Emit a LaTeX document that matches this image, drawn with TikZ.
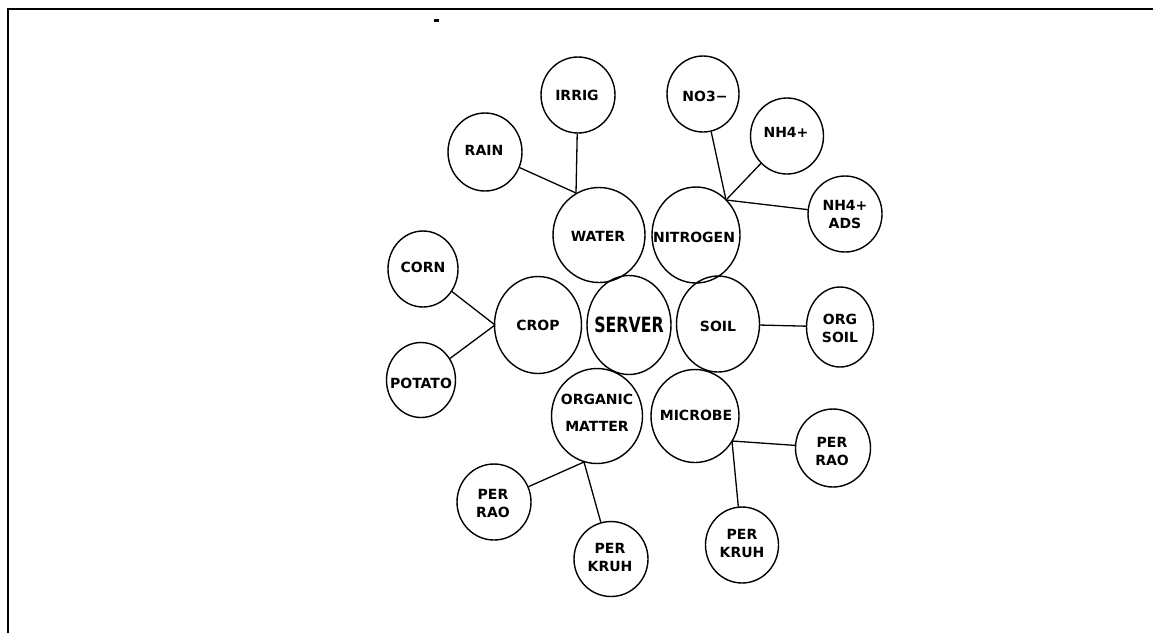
\documentclass[tikz,border=0pt]{standalone}
\usepackage{fontspec}
\usepackage{graphicx}
\setmainfont{DejaVu Sans}
\usetikzlibrary{shapes.geometric}

\begin{document}
\begin{tikzpicture}[x=1pt, y=-1pt,
  bubble/.style={ellipse, draw, line width=1.4pt, inner sep=0pt},
  small/.style={bubble, minimum width=74pt, minimum height=77pt},
  big/.style={bubble, minimum width=88pt, minimum height=96pt},
  txt/.style={inner sep=0pt, align=center, font=\fontsize{14}{18}\selectfont\bfseries},
  link/.style={line width=1.3pt},
]
\useasboundingbox (0,0) rectangle (1153,633);

% page frame (top and left rules) and the stray mark
\draw[line width=2.5pt, line join=miter] (8,633) -- (8,9) -- (1153,9);
\fill (433.5,18.5) rectangle (438.5,21.5);

% central cluster
\node[big, minimum width=87pt, minimum height=97pt] (crop) at (538,325) {};
\node[big, minimum width=84pt, minimum height=99pt] (server) at (629,325) {};
\node[big, minimum width=83pt, minimum height=96pt] (soil) at (718,324) {};
\node[big, minimum width=92pt, minimum height=95pt] (water) at (599,235) {};
\node[big, minimum width=88pt, minimum height=96pt] (nitrogen) at (696,235) {};
\node[big, minimum width=91pt, minimum height=95pt] (om) at (597,416) {};
\node[big, minimum width=88pt, minimum height=93pt] (microbe) at (695,416) {};

% outer circles
\node[small, minimum height=76pt] (irrig) at (578,95) {};
\node[small, minimum height=78pt] (rain) at (485,152) {};
\node[small, minimum width=72pt, minimum height=76pt] (no3) at (703,94) {};
\node[small, minimum width=73pt, minimum height=76pt] (nh4) at (787,136) {};
\node[small, minimum height=76pt] (nh4ads) at (845,214) {};
\node[small, minimum width=70pt, minimum height=76pt] (corn) at (423,269) {};
\node[small, minimum width=69pt, minimum height=75pt] (potato) at (421,380) {};
\node[small, minimum width=67pt, minimum height=80pt] (orgsoil) at (840,327) {};
\node[small, minimum height=76pt] (raoL) at (494,502) {};
\node[small, minimum height=75pt] (kruhL) at (611,559) {};
\node[small, minimum width=75pt, minimum height=78pt] (raoR) at (833,448) {};
\node[small, minimum width=73pt, minimum height=76pt] (kruhR) at (742,545) {};

% labels
\node[txt] (t-crop) at (538,325) {CROP};
\node[txt] (t-server) at (629,325) {\scalebox{0.75}[1]{\fontsize{21}{25}\selectfont\bfseries SERVER}};
\node[txt] (t-soil) at (718,326) {SOIL};
\node[txt] (t-water) at (598,236) {WATER};
\node[txt] (t-nitrogen) at (694,237) {NITROGEN};
\node[txt, font=\fontsize{14}{27}\selectfont\bfseries] (t-om) at (597,413) {ORGANIC\\MATTER};
\node[txt] (t-microbe) at (696,415) {MICROBE};
\node[txt] (t-irrig) at (577,95) {IRRIG};
\node[txt] (t-rain) at (484,150) {RAIN};
\node[txt] (t-no3) at (705,96) {NO3−};
\node[txt] (t-nh4) at (786,132) {NH4+};
\node[txt] (t-nh4ads) at (845,214) {NH4+\\ADS};
\node[txt] (t-corn) at (423,267) {CORN};
\node[txt] (t-potato) at (421,383) {POTATO};
\node[txt] (t-orgsoil) at (840,328) {ORG\\SOIL};
\node[txt] (t-raoL) at (493,503) {PER\\RAO};
\node[txt] (t-kruhL) at (610,557) {PER\\KRUH};
\node[txt] (t-raoR) at (832,451) {PER\\RAO};
\node[txt] (t-kruhR) at (742,543) {PER\\KRUH};

% junction points on the rims of the central circles
\coordinate (wj) at (576,193);
\coordinate (nj) at (726,200);
\coordinate (cj) at (495,325);
\coordinate (omj) at (584,462);
\coordinate (mj) at (732,441);

% connectors
\draw[link] (irrig) -- (wj);
\draw[link] (rain) -- (wj);
\draw[link] (no3) -- (nj);
\draw[link] (nh4) -- (nj);
\draw[link] (nh4ads) -- (nj);
\draw[link] (corn) -- (cj);
\draw[link] (potato) -- (cj);
\draw[link] (soil) -- (orgsoil);
\draw[link] (raoL) -- (omj);
\draw[link] (kruhL) -- (omj);
\draw[link] (raoR) -- (mj);
\draw[link] (kruhR) -- (mj);
\end{tikzpicture}
\end{document}
